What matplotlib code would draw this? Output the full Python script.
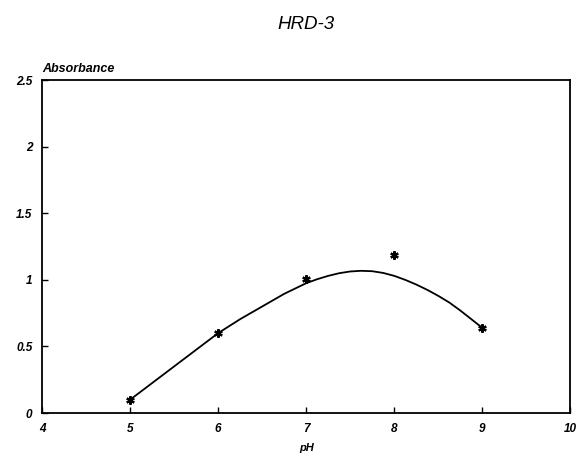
import matplotlib.pyplot as plt

# measured points (pH vs absorbance)
ph = [5, 6, 7, 8, 9]
absorbance = [0.10, 0.60, 1.01, 1.19, 0.64]

# fitted curve, values
curve_ph = [5.0, 5.5, 6.0, 6.25, 6.5, 6.75, 7.0, 7.125, 7.25, 7.375, 7.5,
            7.625, 7.75, 7.875, 8.0, 8.125, 8.25, 8.375, 8.5, 8.625, 8.75,
            8.875, 9.0]
curve_abs = [0.10, 0.35, 0.60, 0.705, 0.80, 0.895, 0.975, 1.005, 1.03, 1.05,
             1.063, 1.068, 1.065, 1.052, 1.03, 1.0, 0.965, 0.925, 0.88,
             0.83, 0.77, 0.705, 0.64]

x_ticks = [4, 5, 6, 7, 8, 9, 10]
y_ticks = [0, 0.5, 1, 1.5, 2, 2.5]
y_tick_labels = ["0", "0.5", "1", "1.5", "2", "2.5"]


def main() -> None:
    plt.rcParams["font.family"] = ["Liberation Sans", "DejaVu Sans"]

    fig = plt.figure(figsize=(5.8, 4.71), dpi=100)
    ax = fig.add_axes([0.0724, 0.123, 0.911, 0.707])

    ax.plot(curve_ph, curve_abs, color="black", linewidth=1.3)
    ax.plot(ph, absorbance, linestyle="none", marker=(6, 2, 0),
            markersize=6, markeredgewidth=1.6, color="black")

    ax.set_xlim(4, 10)
    ax.set_ylim(0, 2.5)
    ax.set_xticks(x_ticks)
    ax.set_yticks(y_ticks)
    ax.set_yticklabels(y_tick_labels)
    for spine in ax.spines.values():
        spine.set_linewidth(1.3)
        spine.set_color("black")
    ax.tick_params(direction="in", length=4, width=1, pad=7,
                   labelsize=8.5)
    for label in ax.get_xticklabels() + ax.get_yticklabels():
        label.set_fontstyle("italic")
        label.set_fontweight("bold")

    ax.set_xlabel("pH", fontsize=8, fontstyle="italic", fontweight="bold",
                  labelpad=6)
    ax.text(0.0, 1.015, "Absorbance", transform=ax.transAxes, fontsize=9,
            fontstyle="italic", fontweight="bold", ha="left", va="bottom")
    fig.text(0.527, 0.947, "HRD-3", fontsize=13.5, fontstyle="italic",
             ha="center", va="center")

    fig.savefig("out.png", dpi=100)


if __name__ == "__main__":
    main()
